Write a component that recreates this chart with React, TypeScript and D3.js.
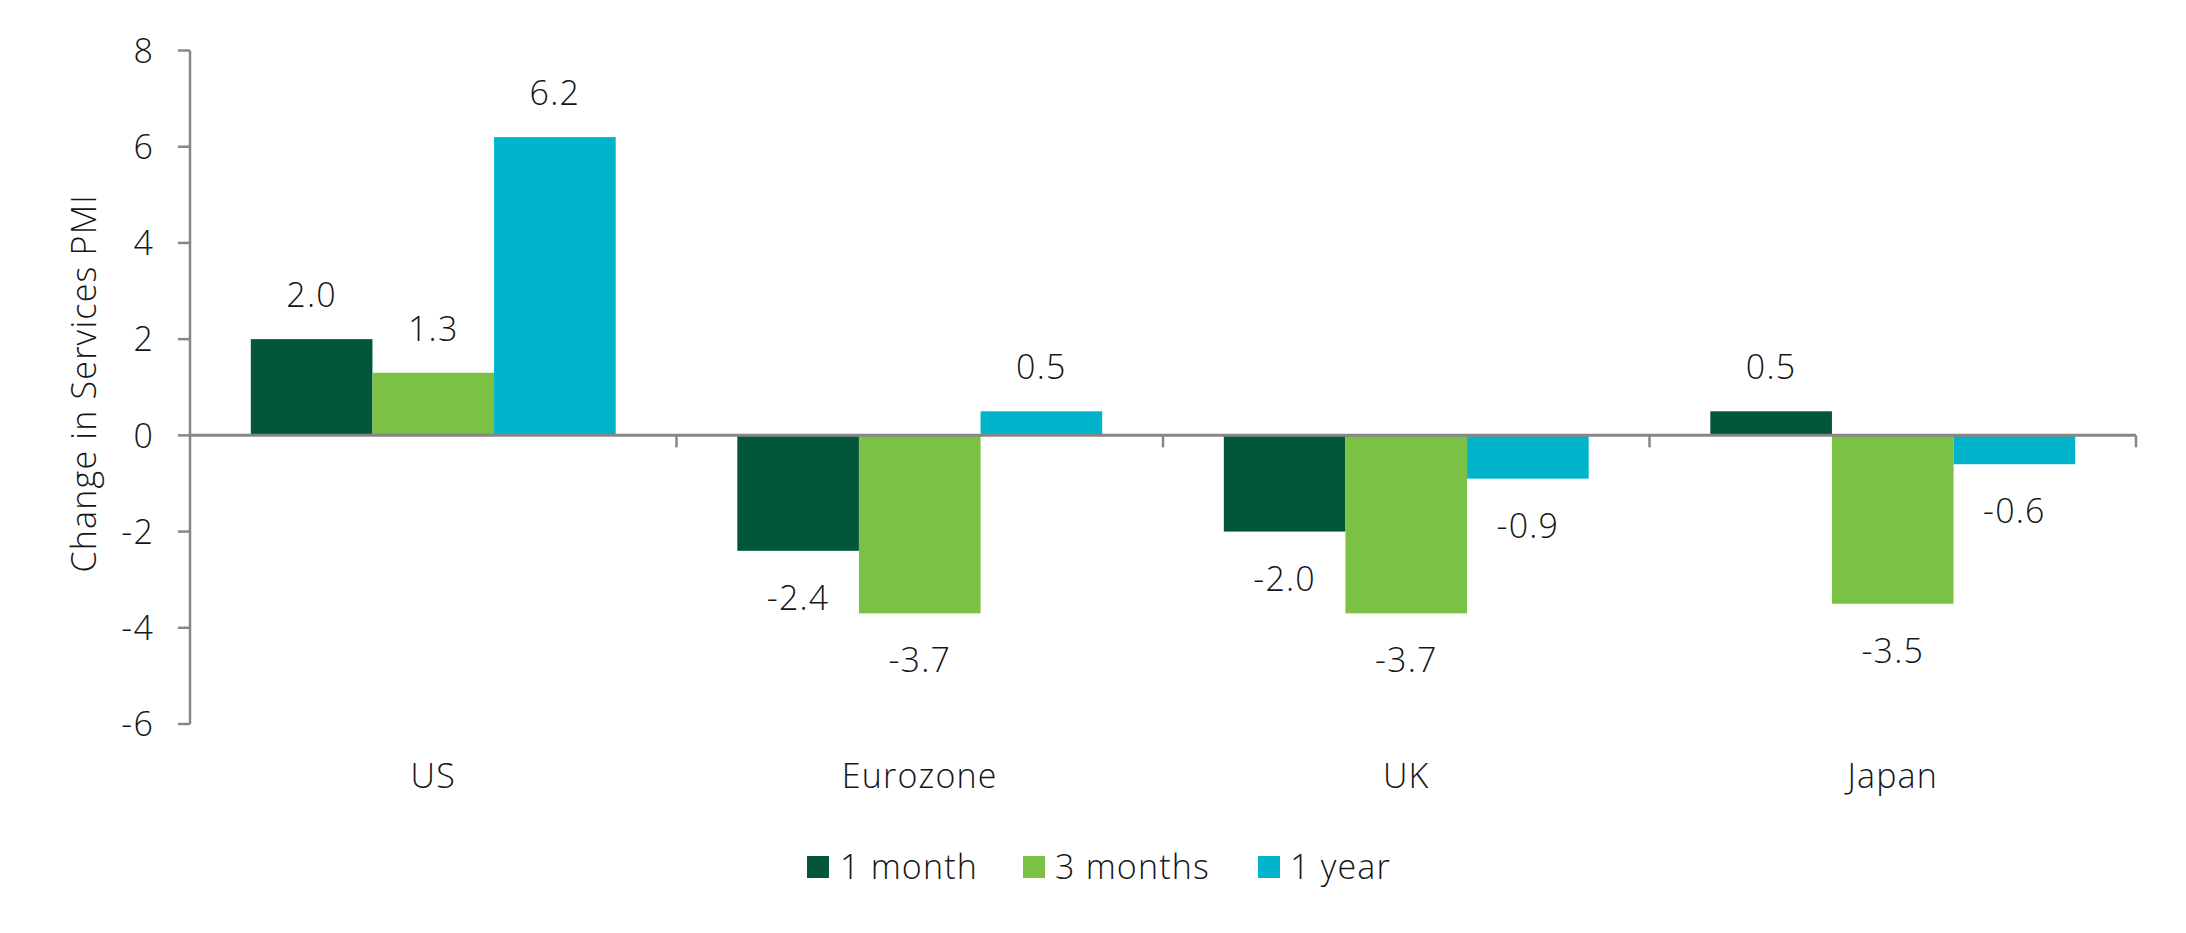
import React from "react";
import * as d3 from "d3";

const categories = ["US", "Eurozone", "UK", "Japan"];
const seriesNames = ["1 month", "3 months", "1 year"];
const oneMonth = [2.0, -2.4, -2.0, 0.5];
const threeMonths = [1.3, -3.7, -3.7, -3.5];
const oneYear = [6.2, 0.5, -0.9, -0.6];
const yTicks = [-6, -4, -2, 0, 2, 4, 6, 8];
const colors = ["#02563a", "#7bc143", "#00b5cb"];

const W = 2186;
const H = 933;
const FONT = "'Open Sans', 'Noto Sans', sans-serif";
const FS = 34;
const LS = 1.2;

export default function App() {
  const left = 190, right = 2136, top = 50.5, bottom = 724;
  const y = d3.scaleLinear().domain([-6, 8]).range([bottom, top]);
  const x0 = d3.scaleBand<string>().domain(categories).range([left, right]).paddingInner(0).paddingOuter(0);
  const bw = x0.bandwidth();
  const barW = bw / 4;
  const x1 = d3.scaleBand<string>().domain(seriesNames).range([barW / 2, bw - barW / 2]).padding(0);
  const series = [oneMonth, threeMonths, oneYear];
  const axisColor = "#868686";
  const textColor = "#161616";
  const y0 = y(0);

  const legendItems = [
    { name: seriesNames[0], sx: 807, tx: 840 },
    { name: seriesNames[1], sx: 1023, tx: 1055 },
    { name: seriesNames[2], sx: 1258, tx: 1290 },
  ];

  return (
    <svg width={W} height={H} style={{ position: "absolute", left: 0, top: 0, background: "#fff" }} fontFamily={FONT} fontWeight={300} letterSpacing={LS}>
      {categories.map((c, ci) =>
        series.map((s, si) => {
          const v = s[ci];
          const bx = (x0(c) as number) + (x1(seriesNames[si]) as number);
          const yv = y(v);
          return (
            <rect key={c + si} x={bx} y={Math.min(yv, y0)} width={x1.bandwidth()} height={Math.abs(yv - y0)} fill={colors[si]} />
          );
        })
      )}
      {categories.map((c, ci) =>
        series.map((s, si) => {
          const v = s[ci];
          const cx = (x0(c) as number) + (x1(seriesNames[si]) as number) + x1.bandwidth() / 2;
          const yv = y(v);
          const ty = v >= 0 ? yv - 32 : yv + 59;
          return (
            <text key={"l" + c + si} x={cx} y={ty} textAnchor="middle" fontSize={FS} fill={textColor}>
              {v.toFixed(1)}
            </text>
          );
        })
      )}
      <line x1={left} x2={left} y1={top} y2={bottom} stroke={axisColor} strokeWidth={2.5} />
      {yTicks.map((t) => (
        <g key={t}>
          <line x1={left - 12} x2={left} y1={y(t)} y2={y(t)} stroke={axisColor} strokeWidth={2.5} />
          <text x={154} y={y(t)} dy="0.36em" textAnchor="end" fontSize={FS} fill={textColor}>
            {t}
          </text>
        </g>
      ))}
      <line x1={left} x2={right} y1={y0} y2={y0} stroke={axisColor} strokeWidth={3} />
      {categories.map((c) => (
        <line key={"xt" + c} x1={(x0(c) as number) + bw} x2={(x0(c) as number) + bw} y1={y0} y2={y0 + 12} stroke={axisColor} strokeWidth={2.5} />
      ))}
      {categories.map((c) => (
        <text key={"xl" + c} x={(x0(c) as number) + bw / 2} y={788} textAnchor="middle" fontSize={FS} fill={textColor}>
          {c}
        </text>
      ))}
      <text transform={`translate(96, ${(top + bottom) / 2 - 4}) rotate(-90)`} textAnchor="middle" fontSize={FS} fill={textColor}>
        Change in Services PMI
      </text>
      {legendItems.map((it, i) => (
        <g key={it.name}>
          <rect x={it.sx} y={856} width={22} height={22} fill={colors[i]} />
          <text x={it.tx} y={879} fontSize={FS} fill={textColor}>
            {it.name}
          </text>
        </g>
      ))}
    </svg>
  );
}
